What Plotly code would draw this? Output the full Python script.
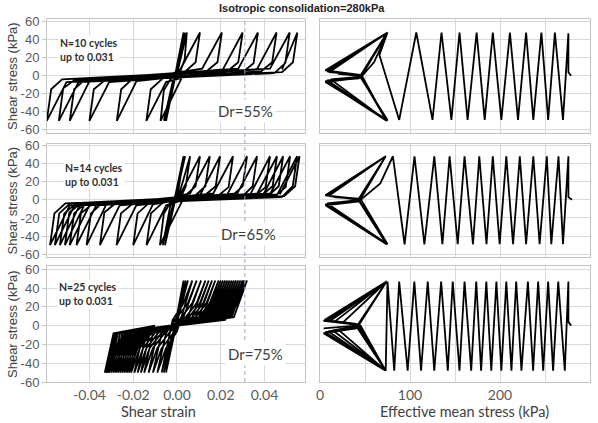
import plotly.graph_objects as go

W, H = 598, 423

TITLE = "Isotropic consolidation=280kPa"
Y_TITLE = "Shear stress (kPa)"
X_TITLE_LEFT = "Shear strain"
X_TITLE_RIGHT = "Effective mean stress (kPa)"
CYCLE_NOTES = ["N=10 cycles<br>up to 0.031", "N=14 cycles<br>up to 0.031", "N=25 cycles<br>up to 0.031"]
DR_LABELS = ["Dr=55%", "Dr=65%", "Dr=75%"]
STRAIN_TICKS = [-0.06, -0.04, -0.02, 0.0, 0.02, 0.04]
STRAIN_TICK_TEXT = ["-0.06", "-0.04", "-0.02", "0.00", "0.02", "0.04"]
MEAN_TICKS = [0, 50, 100, 150, 200, 250, 300]
MEAN_TICK_TEXT = ["0", "", "100", "", "200", "", "300"]
STRESS_TICKS = [-60, -40, -20, 0, 20, 40, 60]
STRESS_TICK_TEXT = ["-60", "-40", "-20", "0", "20", "40", "60"]
TARGET_STRAIN = 0.031

# ---- Row 1 (Dr=55%) : shear strain vs shear stress
R1_STRAIN = [0.000, 0.003, -0.005, 0.0035, -0.0055, 0.004, -0.006,
             -0.002, 0.0015, 0.0035, 0.0045, 0.0005, -0.003, -0.006, -0.0075,
             0.0015, 0.0035, 0.0085, 0.0105, 0.0015, -0.007, -0.012, -0.014,
             -0.005, 0.0135, 0.0185, 0.0205, 0.0115, -0.0205, -0.0255, -0.0275,
             -0.0185, 0.023, 0.028, 0.030, 0.021, -0.033, -0.038, -0.040,
             -0.031, 0.030, 0.035, 0.037, 0.028, -0.042, -0.047, -0.049,
             -0.040, 0.0385, 0.0435, 0.0455, 0.0365, -0.047, -0.052, -0.054,
             -0.045, 0.0445, 0.0495, 0.0515, 0.0425, -0.0525, -0.0575, -0.0595,
             -0.0505, 0.048, 0.053, 0.055, 0.048]
R1_STRESS = [0, 48, -50, 48, -50, 47, -50,
             -7, 5, 18, 48, 7, -4, -16, -50,
             -7, 4, 15, 48, 7, -4, -15, -50,
             -7, 5, 15, 48, 8, -4, -15, -50,
             -6, 5, 15, 48, 7, -5, -15, -50,
             -7, 4, 14, 48, 8, -4, -15, -50,
             -6, 5, 15, 48, 7, -5, -14, -50,
             -7, 3, 14, 48, 8, -4, -15, -50,
             -7, 4, 15, 48, 7]

# ---- Row 2 (Dr=65%)
R2_STRAIN = [0.000, 0.003, -0.0055, 0.0037, -0.0065,
             -0.003, 0.002, 0.004, 0.006, 0.001, -0.003, -0.006, -0.0078,
             0.0012, 0.0035, 0.0085, 0.0105, 0.0015, -0.0069, -0.0119, -0.0139,
             -0.0049, 0.008, 0.013, 0.015, 0.006, -0.013, -0.018, -0.020,
             -0.011, 0.0127, 0.0177, 0.0197, 0.0107, -0.0206, -0.0256, -0.0276,
             -0.0186, 0.0186, 0.0236, 0.0256, 0.0166, -0.0282, -0.0332, -0.0352,
             -0.0262, 0.025, 0.030, 0.032, 0.023, -0.0343, -0.0393, -0.0413,
             -0.0323, 0.0296, 0.0346, 0.0366, 0.0276, -0.0389, -0.0439, -0.0459,
             -0.0369, 0.0355, 0.0405, 0.0425, 0.0335, -0.042, -0.047, -0.049,
             -0.040, 0.0387, 0.0437, 0.0457, 0.0367, -0.0442, -0.0492, -0.0512,
             -0.0422, 0.0415, 0.0465, 0.0485, 0.0395, -0.0465, -0.0515, -0.0535,
             -0.0445, 0.0447, 0.0497, 0.0517, 0.0427, -0.0488, -0.0538, -0.0558,
             -0.0468, 0.0479, 0.0529, 0.0549, 0.0459, -0.051, -0.056, -0.058,
             -0.049, 0.049, 0.054, 0.056, 0.047]
R2_STRESS = [0, 48, -50, 48, -50,
             -6, 4, 15, 48, 6, -3, -15, -50,
             -6, 4, 15, 48, 6, -4, -15, -50,
             -6, 4, 15, 48, 7, -4, -15, -50,
             -5, 5, 15, 48, 6, -5, -15, -50,
             -6, 4, 14, 48, 7, -4, -14, -50,
             -6, 4, 15, 48, 6, -4, -15, -50,
             -5, 3, 15, 48, 7, -5, -15, -50,
             -6, 4, 14, 48, 6, -4, -15, -50,
             -6, 5, 15, 48, 7, -4, -14, -50,
             -5, 4, 15, 48, 6, -5, -15, -50,
             -6, 4, 14, 48, 7, -4, -15, -50,
             -6, 3, 15, 48, 6, -4, -15, -50,
             -6, 4, 15, 48, 6]

# ---- Row 3 (Dr=75%)
R3_STRAIN = [0.000, 0.003, -0.005, 0.004, -0.006, 0.005, -0.007,
             -0.003, -0.002, 0.003, 0.007, 0.002, 0.000, -0.005, -0.009,
             -0.005, -0.001, 0.005, 0.009, 0.003, -0.001, -0.007, -0.011,
             -0.007, 0.001, 0.007, 0.011, 0.005, -0.003, -0.009, -0.013,
             -0.009, 0.003, 0.009, 0.013, 0.007, -0.005, -0.011, -0.015,
             -0.011, 0.0045, 0.0105, 0.0145, 0.0085, -0.0065, -0.0125, -0.0165,
             -0.0125, 0.006, 0.012, 0.016, 0.010, -0.008, -0.014, -0.018,
             -0.014, 0.0075, 0.0135, 0.0175, 0.0115, -0.0095, -0.0155, -0.0195,
             -0.0155, 0.009, 0.015, 0.019, 0.013, -0.011, -0.017, -0.021,
             -0.017, 0.010, 0.016, 0.020, 0.014, -0.012, -0.018, -0.022,
             -0.018, 0.011, 0.017, 0.021, 0.015, -0.013, -0.019, -0.023,
             -0.019, 0.012, 0.018, 0.022, 0.016, -0.014, -0.020, -0.024,
             -0.020, 0.013, 0.019, 0.023, 0.017, -0.015, -0.021, -0.025,
             -0.021, 0.014, 0.020, 0.024, 0.018, -0.016, -0.022, -0.026,
             -0.022, 0.015, 0.021, 0.025, 0.019, -0.017, -0.023, -0.027,
             -0.023, 0.016, 0.022, 0.026, 0.020, -0.018, -0.024, -0.028,
             -0.024, 0.017, 0.023, 0.027, 0.021, -0.019, -0.025, -0.029,
             -0.025, 0.018, 0.024, 0.028, 0.022, -0.020, -0.026, -0.030,
             -0.026, 0.019, 0.025, 0.029, 0.023, -0.021, -0.027, -0.031,
             -0.027, 0.020, 0.026, 0.030, 0.024, -0.0215, -0.0275, -0.0315,
             -0.0275, 0.0205, 0.0265, 0.0305, 0.0245, -0.022, -0.028, -0.032,
             -0.028, 0.021, 0.027, 0.031, 0.025, -0.0225, -0.0285, -0.0325,
             -0.0285, 0.022, 0.028, 0.032, 0.026, -0.023, -0.029, -0.033,
             -0.029, -0.010]
R3_STRESS = [0, 48, -50, 48, -50, 48, -50,
             -8, 6, 24, 48, 9, -6, -24, -50,
             -8, 6, 24, 48, 9, -6, -24, -50,
             -8, 6, 24, 48, 9, -6, -24, -50,
             -8, 6, 24, 48, 9, -6, -24, -50,
             -8, 6, 24, 48, 9, -6, -24, -50,
             -8, 6, 24, 48, 9, -6, -24, -50,
             -8, 6, 24, 48, 9, -6, -24, -50,
             -8, 6, 24, 48, 9, -6, -24, -50,
             -8, 6, 24, 48, 9, -6, -24, -50,
             -8, 6, 24, 48, 9, -6, -24, -50,
             -8, 6, 24, 48, 9, -6, -24, -50,
             -8, 6, 24, 48, 9, -6, -24, -50,
             -8, 6, 24, 48, 9, -6, -24, -50,
             -8, 6, 24, 48, 9, -6, -24, -50,
             -8, 6, 24, 48, 9, -6, -24, -50,
             -8, 6, 24, 48, 9, -6, -24, -50,
             -8, 6, 24, 48, 9, -6, -24, -50,
             -8, 6, 24, 48, 9, -6, -24, -50,
             -8, 6, 24, 48, 9, -6, -24, -50,
             -8, 6, 24, 48, 9, -6, -24, -50,
             -8, 6, 24, 48, 9, -6, -24, -50,
             -8, 6, 24, 48, 9, -6, -24, -50,
             -8, 0]

# ---- Stress paths: effective mean stress vs shear stress
P1_MEAN = [279, 276, 276, 270, 261, 253.5, 246, 237, 229, 220, 211, 201.5, 192, 183, 174, 164, 155, 146, 135, 125, 107, 88,
           66, 75, 60, 46, 12, 74, 46, 10, 75, 44, 8, 75, 45, 8, 74, 43, 6, 74, 44, 6, 75, 45, 6, 75, 44, 20]
P1_SHEAR = [0, 4, 47, -49, 48, -49, 48, -49, 48, -49, 48, -49, 48, -49, 48, -49, 48, -49, 48, -49, 48, -49,
            23, 48, 15, -1, -4, -50, 1, 4, 48, -2, -5, -50, 0, 5, 47, -3, -6, -50, 1, 6, 48, -2, -7, -49, 0, 2]

P2_MEAN = [280, 276, 276, 270, 265, 257, 252, 244, 237, 229, 222, 214.5, 207, 199.6, 192, 185, 177, 170, 160.6, 153,
           144, 136, 127, 116, 105, 94, 81,
           67, 45, 8, 75, 45, 9, 73, 44, 8, 75, 43, 7, 73, 42, 6, 74, 42, 6, 73, 41, 6, 74, 42, 15]
P2_SHEAR = [0, 3, 48, -49, 48, -49, 48, -49, 48, -49, 48, -49, 48, -49, 48, -49, 48, -49, 48, -49,
            48, -49, 48, -49, 48, -49, 48,
            18, 0, -4, -49, 1, 4, 48, -1, -4, -49, 0, 5, 48, -2, -5, -49, 1, 5, 48, -2, -6, -49, 1, 3]

P3_MEAN = [279, 276, 276, 272, 264.7, 259, 253.5, 248, 242.4, 236.8, 231, 223.8, 218, 212.7, 207, 201.5, 196, 190.3,
           184.8, 179, 173.6, 168, 160.6, 155, 147.5, 142, 134.6, 127, 119.7, 112.3, 104.8, 97.4, 88, 82.5, 75, 73,
           45, 25, 74, 42, 20, 73, 43, 16, 74, 42, 14, 73, 42, 11, 74, 41, 9, 73, 41, 7, 74, 40, 6, 73, 40, 5,
           74, 40, 5, 73, 40, 4, 74, 40, 4, 73, 40, 4]
P3_SHEAR = [0, 4, 47, -48, 47, -48, 47, -48, 47, -48, 47, -48, 47, -48, 47, -48, 47, -48,
            47, -48, 47, -48, 47, -48, 47, -48, 47, -48, 47, -48, 47, -48, 47, -48, 47, -48,
            0, 3, 47, -1, -4, -48, 1, 4, 47, -1, -5, -48, 1, 5, 47, -2, -6, -48, 1, 5, 47, -2, -7, -48, 2, 6,
            47, -2, -8, -48, 1, 5, 47, -3, -8, -48, 0, -3]

LEFT_DATA = [(R1_STRAIN, R1_STRESS), (R2_STRAIN, R2_STRESS), (R3_STRAIN, R3_STRESS)]
RIGHT_DATA = [(P1_MEAN, P1_SHEAR), (P2_MEAN, P2_SHEAR), (P3_MEAN, P3_SHEAR)]

# ---- layout geometry (pixels)
LEFT_PX = (47, 305)
RIGHT_PX = (320, 590)
ROWS_PX = [(19, 133), (144, 257), (266, 382)]
Y_RANGES = [[-63.5, 63], [-63, 61.5], [-60, 63.5]]
STRAIN_RANGE = [-0.0594, 0.0585]
MEAN_RANGE = [0, 300]


def fx(p):
    return p / W


def fy(p):
    return 1 - p / H


SANS = "Liberation Sans, Arial"
CAL = "Lato, Carlito, Calibri"
GRID = "#d9d9d9"
BORDER = "#c4c4c4"
TICKC = "#595959"

fig = go.Figure()
layout = dict(width=W, height=H, margin=dict(l=0, r=0, t=0, b=0, autoexpand=False),
              paper_bgcolor="white", plot_bgcolor="white", showlegend=False)

for i in range(3):
    y0, y1 = ROWS_PX[i]
    for j in range(2):
        idx = 2 * i + j + 1
        sfx = "" if idx == 1 else str(idx)
        xs, ys = (LEFT_DATA if j == 0 else RIGHT_DATA)[i]
        fig.add_trace(go.Scatter(x=xs, y=ys, mode="lines", xaxis="x" + sfx, yaxis="y" + sfx,
                                 line=dict(color="black", width=1.8), hoverinfo="skip"))
        xpx = LEFT_PX if j == 0 else RIGHT_PX
        xa = dict(domain=[fx(xpx[0]), fx(xpx[1])], anchor="y" + sfx, automargin=False,
                  range=STRAIN_RANGE if j == 0 else MEAN_RANGE,
                  tickvals=STRAIN_TICKS if j == 0 else MEAN_TICKS,
                  ticktext=STRAIN_TICK_TEXT if j == 0 else MEAN_TICK_TEXT,
                  showticklabels=(i == 2), showgrid=True, gridcolor=GRID, gridwidth=1,
                  zeroline=False, showline=True, linecolor=BORDER, linewidth=1, mirror=True,
                  ticks="", tickfont=dict(family=CAL, size=14, color=TICKC))
        ya = dict(domain=[fy(y1), fy(y0)], anchor="x" + sfx, range=Y_RANGES[i], automargin=False,
                  tickvals=STRESS_TICKS, ticktext=STRESS_TICK_TEXT,
                  showticklabels=(j == 0), showgrid=True, gridcolor=GRID, gridwidth=1,
                  zeroline=False, showline=True, linecolor=BORDER, linewidth=1, mirror=True,
                  ticks="outside" if j == 0 else "", ticklen=4, tickcolor=BORDER,
                  tickfont=dict(family=SANS, size=13, color=TICKC))
        layout["xaxis" + sfx] = xa
        layout["yaxis" + sfx] = ya

fig.update_layout(**layout)

fig.add_shape(type="line", xref="x", yref="paper", x0=TARGET_STRAIN, x1=TARGET_STRAIN,
              y0=fy(ROWS_PX[2][1]), y1=fy(ROWS_PX[0][0]),
              line=dict(color="#8fa9cc", width=1, dash="4px,3px"), layer="above")

NOTE_POS = [(-0.0545, 28.6), (-0.052, 27.0), (-0.0549, 34.0)]
DR_POS = [(0.0311, -39.5), (0.0325, -37.4), (0.036, -29.7)]
for i in range(3):
    idx = 2 * i + 1
    sfx = "" if idx == 1 else str(idx)
    fig.add_annotation(x=NOTE_POS[i][0], y=NOTE_POS[i][1], xref="x" + sfx, yref="y" + sfx,
                       text=CYCLE_NOTES[i], showarrow=False, xanchor="left", yanchor="middle",
                       align="left", bgcolor="white", borderpad=1,
                       font=dict(family=CAL, size=10.5, color="#303030", weight="bold"))
    fig.add_annotation(x=DR_POS[i][0], y=DR_POS[i][1], xref="x" + sfx, yref="y" + sfx,
                       text=DR_LABELS[i], showarrow=False, bgcolor="white", borderpad=2,
                       xanchor="center", yanchor="middle",
                       font=dict(family=CAL, size=15, color="#404040"))
    yc = (ROWS_PX[i][0] + ROWS_PX[i][1]) / 2
    fig.add_annotation(x=fx(12), y=fy(yc), xref="paper", yref="paper", text=Y_TITLE,
                       textangle=-90, showarrow=False, xanchor="center", yanchor="middle",
                       font=dict(family=SANS, size=13, color="#404040"))

fig.add_annotation(x=fx(302), y=fy(8), xref="paper", yref="paper", text=TITLE, showarrow=False,
                   xanchor="center", yanchor="middle",
                   font=dict(family=SANS, size=11, color="#222222", weight="bold"))
fig.add_annotation(x=fx(158), y=fy(411), xref="paper", yref="paper", text=X_TITLE_LEFT,
                   showarrow=False, xanchor="center", yanchor="middle",
                   font=dict(family=CAL, size=14.5, color="#404040"))
fig.add_annotation(x=fx(464), y=fy(411), xref="paper", yref="paper", text=X_TITLE_RIGHT,
                   showarrow=False, xanchor="center", yanchor="middle",
                   font=dict(family=CAL, size=14.5, color="#404040"))

fig.write_html("out.html", config={"displayModeBar": False, "staticPlot": True},
               post_script="document.body.style.margin='0px';document.body.style.overflow='hidden';")
